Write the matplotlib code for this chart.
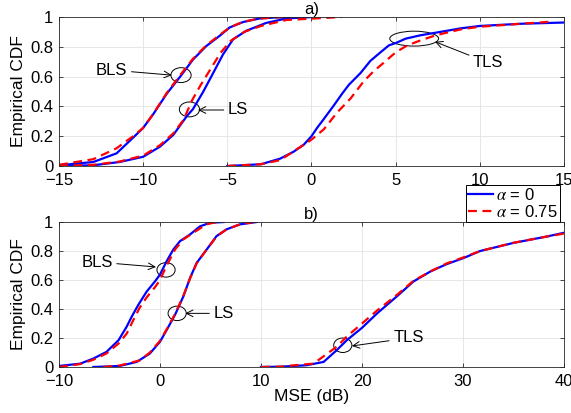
import matplotlib
matplotlib.use("Agg")
import matplotlib.pyplot as plt
from matplotlib.patches import Ellipse

plt.rcParams['font.family'] = ['Liberation Sans', 'DejaVu Sans']
plt.rcParams['mathtext.fontset'] = 'stix'
plt.rcParams['font.size'] = 12

# ---- panel a) ----
a_bls_x0 = [-15, -12.96, -11.58, -10.6, -10, -9.4, -8.6, -7.8, -7.04, -6.25, -5.45, -4.86, -4.07, -3.1, -2, -1.2]
a_bls_y0 = [0.005, 0.027, 0.085, 0.19, 0.256, 0.348, 0.485, 0.60, 0.714, 0.805, 0.874, 0.93, 0.966, 0.99, 0.998, 1.0]
a_bls_x1 = [-15, -12.96, -11.58, -10.6, -10, -9.4, -8.6, -7.8, -7.04, -6.25, -5.45, -4.86, -4.07, -3.1, -2, -1.2]
a_bls_y1 = [0.008, 0.046, 0.119, 0.20, 0.256, 0.35, 0.49, 0.61, 0.72, 0.81, 0.88, 0.93, 0.968, 0.99, 0.998, 1.0]

a_ls_x0 = [-15, -12.96, -11.4, -10, -9.0, -8.2, -7.4, -7.04, -6.44, -5.85, -5.26, -4.66, -3.87, -3.08, -2.7, -1.5, 0]
a_ls_y0 = [0, 0.005, 0.027, 0.062, 0.13, 0.21, 0.336, 0.382, 0.497, 0.622, 0.748, 0.85, 0.908, 0.943, 0.96, 0.99, 1.0]
a_ls_x1 = [-15, -12.96, -11.4, -10, -9.0, -8.2, -7.6, -7.1, -6.6, -6.0, -5.4, -4.8, -4, -3, -1.5, 1.8]
a_ls_y1 = [0, 0.008, 0.03, 0.07, 0.14, 0.22, 0.31, 0.44, 0.54, 0.65, 0.76, 0.84, 0.90, 0.94, 0.98, 1.0]

a_tls_x0 = [-5, -3, -1.85, -1.05, -0.46, 0, 0.34, 0.73, 1.33, 1.83, 2.22, 2.92, 3.5, 4.1, 4.6, 5.0, 5.6,
            6.5, 7.5, 8.87, 10, 12.5, 15]
a_tls_y0 = [0, 0.012, 0.05, 0.097, 0.143, 0.20, 0.257, 0.315, 0.407, 0.487, 0.545, 0.625, 0.706, 0.763,
            0.81, 0.825, 0.855, 0.878, 0.897, 0.924, 0.94, 0.955, 0.963]
a_tls_x1 = [-5, -3, -1.85, -0.46, 0, 0.73, 1.53, 2.32, 3.1, 3.7, 4.3, 5.0, 5.7, 6.5, 7.4, 8.87, 10, 12.5, 14.4]
a_tls_y1 = [0, 0.012, 0.04, 0.143, 0.177, 0.246, 0.36, 0.453, 0.568, 0.637, 0.694, 0.763, 0.81, 0.844,
            0.878, 0.917, 0.935, 0.955, 0.97]

# ---- panel b) ----
b_bls_x0 = [-10, -7.9, -6.6, -5.3, -4.1, -3.3, -2.8, -2.15, -1.32, -0.5, 0, 0.66, 1.32, 1.98, 2.97, 3.96, 4.95, 6.3]
b_bls_y0 = [0.007, 0.023, 0.058, 0.104, 0.185, 0.278, 0.347, 0.428, 0.52, 0.59, 0.637, 0.73, 0.81, 0.868,
            0.914, 0.97, 0.995, 1.0]
b_bls_x1 = [-10, -7.9, -6.6, -5.3, -4.1, -3.3, -2.64, -2.0, -1.32, -0.5, 0, 0.66, 1.49, 2.31, 3.3, 4.6, 5.6]
b_bls_y1 = [0, 0.02, 0.05, 0.093, 0.162, 0.23, 0.324, 0.41, 0.48, 0.55, 0.60, 0.70, 0.81, 0.88, 0.926, 0.984, 1.0]

b_ls_x0 = [-6.6, -4.0, -2.3, -1.0, 0, 0.66, 1.49, 2.31, 2.97, 3.63, 4.62, 5.6, 6.6, 7.92, 9.57]
b_ls_y0 = [0, 0.007, 0.035, 0.093, 0.174, 0.255, 0.36, 0.486, 0.613, 0.718, 0.81, 0.903, 0.95, 0.984, 1.0]
b_ls_x1 = [-5.6, -4.0, -1.98, -1.0, 0, 0.66, 1.49, 2.31, 2.97, 3.63, 4.62, 5.6, 6.6, 7.92, 9.3]
b_ls_y1 = [0, 0.01, 0.046, 0.10, 0.18, 0.26, 0.365, 0.49, 0.61, 0.715, 0.81, 0.90, 0.95, 0.984, 1.0]

b_tls_x0 = [10, 11.9, 14.5, 16.2, 17.5, 18.5, 20, 21.5, 23.5, 25.1, 26.8, 28.4, 30, 31.7, 35, 38.3, 40]
b_tls_y0 = [0, 0.002, 0.012, 0.035, 0.116, 0.185, 0.27, 0.37, 0.49, 0.59, 0.66, 0.71, 0.75, 0.80, 0.856, 0.90, 0.926]
b_tls_x1 = [10, 11.9, 13, 15.2, 17.5, 18.5, 20, 21.5, 23.5, 25.1, 26.8, 28.4, 30, 31.7, 35, 38.3, 40]
b_tls_y1 = [0, 0.002, 0.01, 0.023, 0.14, 0.21, 0.30, 0.39, 0.50, 0.595, 0.66, 0.715, 0.755, 0.80, 0.857, 0.90, 0.92]

legend_labels = [r'$\alpha$ = 0', r'$\alpha$ = 0.75']

fig = plt.figure(figsize=(5.71, 4.13), dpi=100)
ax1 = fig.add_axes([0.1033, 0.598, 0.8844, 0.3608])
ax2 = fig.add_axes([0.1033, 0.1114, 0.8844, 0.351])

blue = dict(color='#0000ff', lw=1.6)
red = dict(color='#ff0000', lw=1.6, ls=(0, (4, 2.5)))

for xs0, ys0, xs1, ys1 in [(a_bls_x0, a_bls_y0, a_bls_x1, a_bls_y1),
                           (a_ls_x0, a_ls_y0, a_ls_x1, a_ls_y1),
                           (a_tls_x0, a_tls_y0, a_tls_x1, a_tls_y1)]:
    ax1.plot(xs0, ys0, **blue)
    ax1.plot(xs1, ys1, **red)

for xs0, ys0, xs1, ys1 in [(b_bls_x0, b_bls_y0, b_bls_x1, b_bls_y1),
                           (b_ls_x0, b_ls_y0, b_ls_x1, b_ls_y1),
                           (b_tls_x0, b_tls_y0, b_tls_x1, b_tls_y1)]:
    ax2.plot(xs0, ys0, **blue)
    ax2.plot(xs1, ys1, **red)

arrow = dict(arrowstyle='->,head_length=0.4,head_width=0.2', color='black', lw=0.7,
             shrinkA=1, shrinkB=0)


def mark(ax, label, center, w, h, text_xy, tip):
    ax.add_patch(Ellipse(center, w, h, fill=False, ec='black', lw=0.7))
    ax.annotate(label, xy=tip, xytext=text_xy, textcoords='data',
                ha='center', va='center', fontsize=12, arrowprops=arrow)


mark(ax1, 'BLS', (-7.75, 0.61), 1.2, 0.1, (-11.87, 0.644), (-8.3, 0.61))
mark(ax1, 'LS', (-7.25, 0.38), 1.2, 0.1, (-4.36, 0.376), (-6.74, 0.376))
mark(ax1, 'TLS', (6.1, 0.855), 2.9, 0.1, (10.5, 0.693), (7.34, 0.834))

mark(ax2, 'BLS', (0.6, 0.67), 1.8, 0.1, (-6.24, 0.724), (-0.4, 0.69))
mark(ax2, 'LS', (1.7, 0.37), 1.8, 0.1, (6.3, 0.37), (2.5, 0.37))
mark(ax2, 'TLS', (18.1, 0.15), 1.8, 0.1, (24.6, 0.20), (19.0, 0.145))

for ax, xt in [(ax1, [-15, -10, -5, 0, 5, 10, 15]), (ax2, [-10, 0, 10, 20, 30, 40])]:
    ax.set_xlim(xt[0], xt[-1])
    ax.set_ylim(0, 1)
    ax.set_xticks(xt)
    ax.set_yticks([0, 0.2, 0.4, 0.6, 0.8, 1])
    ax.set_yticklabels(['0', '0.2', '0.4', '0.6', '0.8', '1'])
    ax.tick_params(direction='in', top=True, right=True, labelsize=12, length=3, width=0.5)
    ax.tick_params(axis='x', pad=5)
    ax.tick_params(axis='y', pad=4)
    ax.grid(True, color='#e3e3e3', lw=0.6)
    ax.set_axisbelow(True)
    for s in ax.spines.values():
        s.set_linewidth(0.6)
        s.set_color('#262626')
    ax.set_ylabel('Empirical CDF', fontsize=12.5, labelpad=3)

ax1.set_title('a)', fontsize=12, pad=2)
ax2.set_title('b)', fontsize=12, pad=2)
ax2.set_xlabel('MSE (dB)', fontsize=12.5, labelpad=0)

h0, = ax2.plot([], [], **blue)
h1, = ax2.plot([], [], **red)
leg = fig.legend([h0, h1], legend_labels, loc='upper right', bbox_to_anchor=(0.981, 0.553),
                 fontsize=12, frameon=True, fancybox=False, framealpha=1, edgecolor='black',
                 handlelength=1.5, handletextpad=0.15, borderpad=0.15, labelspacing=0.05,
                 borderaxespad=0)
leg.get_frame().set_linewidth(0.7)

fig.savefig('out.png', dpi=100)
